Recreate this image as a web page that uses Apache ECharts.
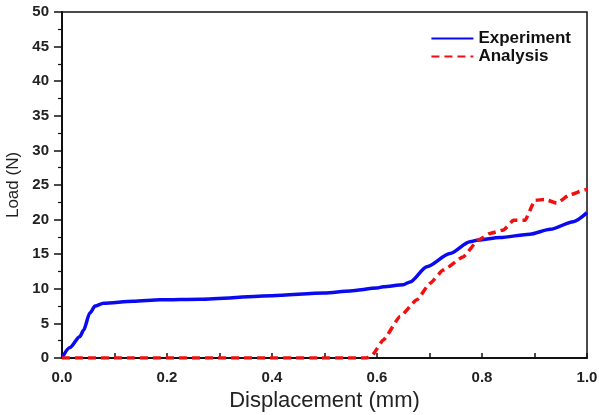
<!DOCTYPE html>
<html><head><meta charset="utf-8">
<script src="https://cdn.jsdelivr.net/npm/echarts@6/dist/echarts.min.js"></script>
<style>html,body{margin:0;padding:0;background:#fff}#c{width:599px;height:415px}</style>
</head><body><div id="c"></div>
<script>
const expX = [0, 0.015, 0.034, 0.041, 0.053, 0.063, 0.079, 0.136, 0.187, 0.263, 0.4, 0.5, 0.549, 0.6, 0.612, 0.65, 0.663, 0.695, 0.739, 0.777, 0.793, 0.834, 0.891, 0.93, 0.974, 1.0];
const expY = [0, 1.5, 3.1, 4.0, 6.5, 7.5, 7.9, 8.2, 8.4, 8.5, 9.0, 9.4, 9.7, 10.1, 10.3, 10.6, 11.0, 13.2, 15.1, 16.8, 17.05, 17.4, 17.9, 18.6, 19.7, 21.0];
const anaX = [0, 0.58, 0.5905, 0.612, 0.644, 0.676, 0.701, 0.726, 0.764, 0.793, 0.815, 0.841, 0.86, 0.882, 0.901, 0.92, 0.942, 0.968, 0.996, 1.0];
const anaY = [0, 0, 0.4, 2.6, 6.0, 8.4, 10.8, 12.7, 14.6, 17.05, 18.0, 18.5, 19.9, 19.9, 22.8, 22.9, 22.4, 23.6, 24.3, 24.3];
const seriesNames = ['Experiment', 'Analysis'];
const xTitle = 'Displacement (mm)';
const yTitle = 'Load (N)';

const chart = echarts.init(document.getElementById('c'), null, {renderer: 'canvas'});
const font = 'Liberation Sans, Arial, sans-serif';
chart.setOption({
  animation: false,
  backgroundColor: '#fff',
  grid: {left: 62, right: 12, top: 12, bottom: 57, show: true, borderColor: '#111', borderWidth: 1.5,
         containLabel: false, outerBoundsMode: 'none'},
  legend: {
    top: 25, right: 23, orient: 'vertical', itemGap: 1, itemWidth: 42, itemHeight: 14,
    data: seriesNames,
    itemStyle: {opacity: 0},
    textStyle: {fontFamily: font, fontSize: 17, fontWeight: 'bold', color: '#111', padding: [0,0,0,0]}
  },
  xAxis: {
    type: 'value', min: 0, max: 1, interval: 0.2,
    name: xTitle, nameLocation: 'middle', nameGap: 32,
    nameTextStyle: {fontFamily: font, fontSize: 22, color: '#222'},
    axisLine: {onZero: false, lineStyle: {color: '#111', width: 2}},
    axisTick: {inside: true, length: 5, lineStyle: {color: '#111', width: 1.5}},
    minorTick: {show: true, splitNumber: 2, length: 5, lineStyle: {color: '#111', width: 1.5}},
    splitLine: {show: false},
    axisLabel: {fontFamily: font, fontSize: 15, fontWeight: 'bold', color: '#222', margin: 12,
      hideOverlap: false, formatter: v => v.toFixed(1)}
  },
  yAxis: {
    type: 'value', min: 0, max: 50, interval: 5,
    name: yTitle, nameLocation: 'middle', nameGap: 34,
    nameTextStyle: {fontFamily: font, fontSize: 17, color: '#222'},
    axisLine: {show: true, onZero: false, lineStyle: {color: '#111', width: 2}},
    axisTick: {show: true, inside: false, length: 8, lineStyle: {color: '#111', width: 1.5}},
    minorTick: {show: true, splitNumber: 2, length: 4, lineStyle: {color: '#111', width: 1.2}},
    splitLine: {show: false},
    axisLabel: {fontFamily: font, fontSize: 15, fontWeight: 'bold', color: '#222', margin: 13}
  },
  series: [
    {name: seriesNames[0], type: 'line', showSymbol: false, symbol: 'none', z: 3,
     smooth: 0.25, smoothMonotone: 'x',
     data: expX.map((x, i) => [x, expY[i]]),
     itemStyle: {color: '#0a0af0'},
     lineStyle: {color: '#0a0af0', width: 3.5}},
    {name: seriesNames[1], type: 'line', showSymbol: false, symbol: 'none', z: 4,
     smooth: 0.15, smoothMonotone: 'x',
     data: anaX.map((x, i) => [x, anaY[i]]),
     itemStyle: {color: '#f01010'},
     lineStyle: {color: '#f01010', width: 3.5, type: [8, 5]}}
  ]
});
</script></body></html>
